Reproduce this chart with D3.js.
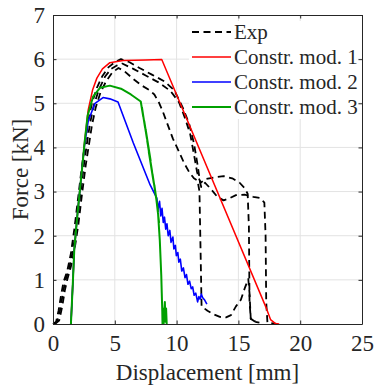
<!DOCTYPE html>
<html>
<head>
<meta charset="utf-8">
<script src="https://cdn.jsdelivr.net/npm/d3@7"></script>
<style>
  html, body { margin: 0; padding: 0; background: #fff; }
  svg text { font-family: "Liberation Serif", "Times New Roman", serif; fill: #262626; }
</style>
</head>
<body>
<svg id="chart" width="376" height="389"></svg>
<script>
// Axis ticks
const xTicks = [0, 5, 10, 15, 20, 25];
const yTicks = [0, 1, 2, 3, 4, 5, 6, 7];

// Experimental force–displacement curves [displacement mm, force kN]
const exp1 = [
  [0,0],[0.25,0.05],[0.45,0.3],[0.65,0.65],[0.85,0.95],[1.15,1.2],[1.45,1.6],[1.75,2.2],[2.05,2.9],
  [2.35,3.6],[2.6,4.1],[2.85,4.6],[3.15,5.0],[3.55,5.35],[4.0,5.62],[4.5,5.82],[5.0,5.93],[5.5,6.0],
  [6.2,5.93],[7.0,5.8],[8.0,5.65],[9.0,5.5],[9.8,5.3],[10.5,4.9],[11.0,4.55],[11.4,4.1],[11.7,3.6],
  [11.9,3.2],[12.0,3.1],[12.3,3.2],[12.8,3.05],[13.3,2.88],[13.8,2.8],[14.3,2.85],[14.8,2.92],
  [15.5,2.93],[16.2,2.88],[16.8,2.85],[17.1,2.75],[17.2,2.0],[17.25,0.5],[17.35,0.03],[18.1,0]
];
const exp2 = [
  [0.1,0],[0.35,0.06],[0.6,0.35],[0.8,0.7],[1.0,0.98],[1.3,1.25],[1.6,1.65],[1.9,2.2],[2.2,2.9],
  [2.5,3.6],[2.75,4.1],[3.0,4.55],[3.3,4.95],[3.7,5.3],[4.2,5.6],[4.7,5.78],[5.2,5.86],[5.6,5.9],
  [6.5,5.78],[7.5,5.63],[8.5,5.48],[9.5,5.28],[10.2,5.02],[10.7,4.65],[11.1,4.3],[11.4,3.85],
  [11.65,3.45],[11.8,3.3],[11.95,3.2],[12.3,3.28],[13.0,3.32],[13.8,3.35],[14.5,3.3],[15.1,3.2],
  [15.5,3.08],[15.75,2.95],[15.85,2.2],[15.9,0.5],[16.0,0.12],[16.3,0.06],[16.6,0.05]
];
const exp3 = [
  [0.15,0],[0.5,0.08],[0.75,0.4],[0.95,0.75],[1.15,1.0],[1.45,1.3],[1.75,1.7],[2.05,2.25],[2.35,2.95],
  [2.65,3.6],[2.9,4.05],[3.15,4.5],[3.45,4.9],[3.85,5.25],[4.3,5.5],[4.8,5.7],[5.3,5.8],[5.8,5.72],
  [6.5,5.55],[7.2,5.4],[7.8,5.3],[8.2,5.2],[8.6,5.0],[8.9,4.8],[9.3,4.5],[9.7,4.2],[10.2,3.9],
  [10.6,3.65],[11.0,3.45],[11.4,3.3],[11.7,3.25],[11.85,3.0],[11.95,1.5],[12.02,0.4],[12.5,0.3],
  [13.0,0.22],[13.5,0.16],[14.0,0.15],[14.4,0.2],[14.8,0.4],[15.2,0.55],[15.5,0.8],[15.8,1.02],
  [15.9,0.7],[16.0,0.12],[16.3,0.05],[16.7,0.03]
];

// Constitutive model 1
const mod1 = [
  [1.45,0],[1.6,0.9],[1.72,1.68],[1.84,2.06],[2.0,2.55],[2.2,3.1],[2.4,3.65],[2.55,4.1],
  [2.85,4.85],[3.2,5.3],[3.55,5.57],[4.0,5.78],[4.6,5.92],[5.67,5.97],[7.5,5.98],[8.8,5.99],
  [17.2,0.4],[17.6,0.1],[18.0,0.01],[18.3,0]
];
// Constitutive model 2
const mod2 = [
  [1.45,0],[1.6,0.9],[1.72,1.68],[1.84,2.06],[2.0,2.55],[2.2,3.1],[2.4,3.65],[2.55,4.05],
  [2.85,4.6],[3.4,5.0],[4.05,5.13],[4.6,5.1],[5.26,5.03],[6.5,4.1],[7.86,3.15],[8.4,2.85],
  [8.5,2.6],[8.62,2.78],[8.72,2.45],[8.82,2.62],[8.92,2.3],[9.02,2.42],[9.12,2.15],[9.22,2.27],
  [9.32,2.0],[9.45,2.12],[9.55,1.85],[9.7,1.97],[9.78,1.7],[9.9,1.78],[9.98,1.55],[10.1,1.62],
  [10.18,1.4],[10.3,1.47],[10.42,1.2],[10.55,1.27],[10.68,1.05],[10.8,1.12],[10.92,0.9],[11.05,0.97],
  [11.18,0.8],[11.3,0.84],[11.42,0.65],[11.55,0.7],[11.7,0.5],[11.8,0.62],[11.9,0.56],[12.0,0.68],
  [12.1,0.6],[12.25,0.55],[12.45,0.45]
];
// Constitutive model 3
const mod3 = [
  [1.45,0],[1.6,0.9],[1.72,1.68],[1.84,2.06],[2.0,2.55],[2.2,3.1],[2.4,3.65],[2.55,4.1],
  [2.8,4.72],[3.24,5.15],[3.8,5.35],[4.6,5.4],[5.5,5.33],[6.3,5.2],[7.1,5.04],
  [7.3,4.7],[7.2,4.9],[7.45,4.45],[7.28,4.75],[7.6,4.2],[7.38,4.6],[7.75,3.95],[7.5,4.4],
  [7.9,3.7],[7.62,4.15],[8.02,3.45],[7.75,3.9],[8.15,3.2],[7.9,3.65],[8.28,2.98],[8.05,3.4],
  [8.4,2.75],[8.2,3.15],[8.5,2.55],[8.35,2.85],[8.58,2.3],[8.5,2.5],
  [8.64,1.9],[8.7,1.5],[8.76,1.1],[8.8,0.7],[8.84,0.3],[8.86,0.0],[8.9,0.35],
  [8.95,0.0],[9.05,0.5],[9.1,0.05],[9.15,0.35],[9.2,0.0]
];

const legendLabels = ["Exp", "Constr. mod. 1", "Constr. mod. 2", "Constr. mod. 3"];

const svg = d3.select("#chart");
const m = { left: 53, right: 362, top: 15, bottom: 324 };

const x = d3.scaleLinear().domain([0, 25]).range([m.left, m.right]);
const y = d3.scaleLinear().domain([0, 7]).range([m.bottom, m.top]);

const axisColor = "#262626";
const gridColor = "#e3e3e3";
const legendFont = 21;
const axisFont = 23;

// Grid
const grid = svg.append("g");
grid.selectAll("line.gx").data(xTicks.slice(1, -1)).join("line")
  .attr("x1", d => x(d)).attr("x2", d => x(d))
  .attr("y1", m.top).attr("y2", m.bottom)
  .attr("stroke", gridColor).attr("stroke-width", 1);
grid.selectAll("line.gy").data(yTicks.slice(1, -1)).join("line")
  .attr("x1", m.left).attr("x2", m.right)
  .attr("y1", d => y(d)).attr("y2", d => y(d))
  .attr("stroke", gridColor).attr("stroke-width", 1);

// Curves
const line = d3.line().x(d => x(d[0])).y(d => y(d[1]));
const plot = svg.append("g");
const series = [
  { data: exp1, color: "#000", width: 1.8, dash: "7,4.5" },
  { data: exp2, color: "#000", width: 1.8, dash: "7,4.5" },
  { data: exp3, color: "#000", width: 1.8, dash: "7,4.5" },
  { data: mod1, color: "#ff0000", width: 1.5, dash: null },
  { data: mod2, color: "#0000ff", width: 1.6, dash: null },
  { data: mod3, color: "#00a000", width: 2, dash: null }
];
series.forEach(s => {
  plot.append("path")
    .attr("d", line(s.data))
    .attr("fill", "none")
    .attr("stroke", s.color)
    .attr("stroke-width", s.width)
    .attr("stroke-linejoin", "round")
    .attr("stroke-dasharray", s.dash);
});

// Legend
const lg = svg.append("g");
lg.append("rect").attr("x", 189).attr("y", 21).attr("width", 169).attr("height", 98).attr("fill", "#fff");
const legendItems = [
  { color: "#000", dash: "7,4.5", width: 1.8 },
  { color: "#ff0000", dash: null, width: 1.5 },
  { color: "#0000ff", dash: null, width: 1.6 },
  { color: "#00a000", dash: null, width: 2 }
];
legendLabels.forEach((lab, i) => {
  const cy = 32 + i * 25;
  lg.append("line").attr("x1", 192).attr("x2", 231).attr("y1", cy).attr("y2", cy)
    .attr("stroke", legendItems[i].color).attr("stroke-width", legendItems[i].width)
    .attr("stroke-dasharray", legendItems[i].dash);
  lg.append("text").attr("x", 234).attr("y", cy).attr("dy", "0.35em")
    .attr("font-size", legendFont).text(lab);
});

// Axes box with inward ticks
const ax = svg.append("g");
const tickLen = 3.5;
const fmt = d3.format("d");
ax.append("g").attr("transform", `translate(0,${m.bottom})`)
  .call(d3.axisBottom(x).tickValues(xTicks).tickFormat(fmt).tickSizeInner(-tickLen).tickSizeOuter(0).tickPadding(10))
  .call(g => g.selectAll("text").attr("font-size", axisFont).attr("dy", "0.72em"));
ax.append("g").attr("transform", `translate(${m.left},0)`)
  .call(d3.axisLeft(y).tickValues(yTicks).tickFormat(fmt).tickSizeInner(-tickLen).tickSizeOuter(0).tickPadding(8))
  .call(g => g.selectAll("text").attr("font-size", axisFont));
ax.append("g").attr("transform", `translate(0,${m.top})`)
  .call(d3.axisTop(x).tickValues(xTicks).tickSizeInner(-tickLen).tickSizeOuter(0).tickFormat(""));
ax.append("g").attr("transform", `translate(${m.right},0)`)
  .call(d3.axisRight(y).tickValues(yTicks).tickSizeInner(-tickLen).tickSizeOuter(0).tickFormat(""));
ax.selectAll(".domain").attr("stroke", axisColor);
ax.selectAll(".tick line").attr("stroke", axisColor);
ax.selectAll("text").attr("fill", axisColor).attr("font-family", '"Liberation Serif", "Times New Roman", serif');

// Axis titles
svg.append("text").attr("x", (m.left + m.right) / 2).attr("y", 380)
  .attr("text-anchor", "middle").attr("font-size", axisFont).text("Displacement [mm]");
svg.append("text").attr("transform", `translate(28,${(m.top + m.bottom) / 2}) rotate(-90)`)
  .attr("text-anchor", "middle").attr("font-size", axisFont).text("Force [kN]");
</script>
</body>
</html>
